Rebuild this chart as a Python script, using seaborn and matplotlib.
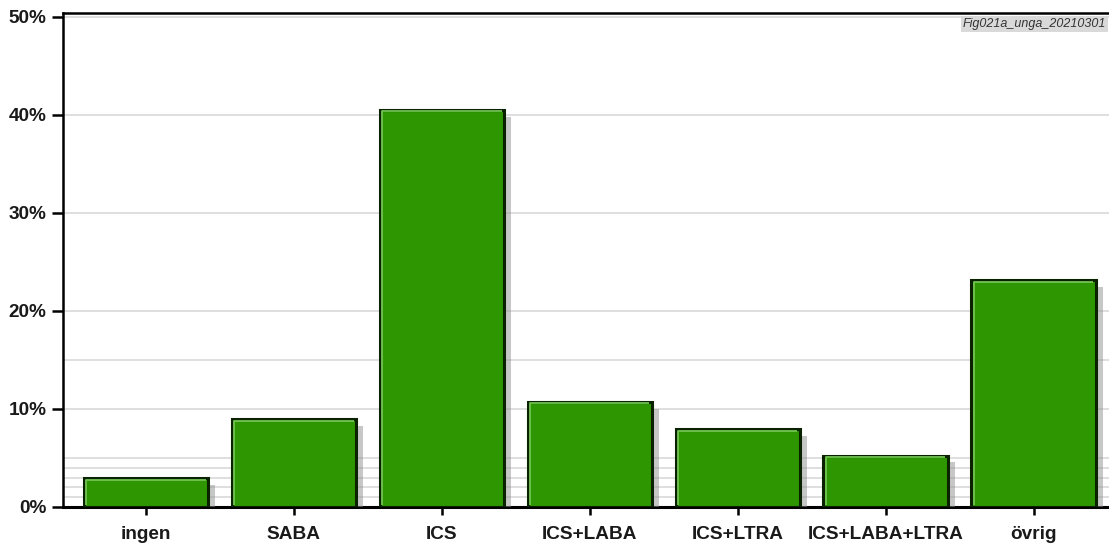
import numpy as np
import pandas as pd
import matplotlib
matplotlib.use("Agg")
import matplotlib.pyplot as plt
import matplotlib.patheffects as pe
import seaborn as sns

# data
categories = ["ingen", "SABA", "ICS", "ICS+LABA", "ICS+LTRA", "ICS+LABA+LTRA", "övrig"]
shares = [2.95, 8.95, 40.5, 10.75, 7.95, 5.25, 23.1]
y_ticks = [0, 10, 20, 30, 40, 50]
grid_lines = [1, 2, 3, 4, 5, 10, 15, 20, 30, 40, 50]
fig_tag = "Fig021a_unga_20210301"

df = pd.DataFrame({"kategori": categories, "andel": shares})

sns.set_style("white")
plt.rcParams["font.family"] = ["Liberation Sans", "DejaVu Sans"]

fig = plt.figure(figsize=(11.09, 5.53), dpi=100)
ax = fig.add_axes([0.0568, 0.0832, 0.9432, 0.8933])

for g in grid_lines:
    ax.axhline(g, color="#d9d9d9", lw=1.2, zorder=0)

sns.barplot(data=df, x="kategori", y="andel", color="#2e9600", saturation=1,
            width=0.84, edgecolor="#0a2200", linewidth=2.2, ax=ax, zorder=3)

for bar in ax.patches:
    bar.set_path_effects([pe.SimplePatchShadow(offset=(5, -5), shadow_rgbFace="#909090", alpha=0.5),
                          pe.Normal()])
    # light inner highlight
    x0, w, h = bar.get_x(), bar.get_width(), bar.get_height()
    ax.plot([x0 + 0.016, x0 + 0.016, x0 + w - 0.016], [0.2, h - 0.16, h - 0.16],
            color="#72c452", lw=1.3, zorder=4, solid_capstyle="butt")

ax.set_xlim(-0.56, 6.51)
ax.set_ylim(0, 50.37)
ax.set_yticks(y_ticks)
ax.set_yticklabels([f"{t}%" for t in y_ticks])
ax.set_xlabel("")
ax.set_ylabel("")

for s in ["left", "bottom", "top"]:
    ax.spines[s].set_visible(True)
    ax.spines[s].set_color("black")
ax.spines["left"].set_linewidth(1.8)
ax.spines["bottom"].set_linewidth(2.2)
ax.spines["top"].set_linewidth(1.8)
ax.spines["right"].set_visible(False)

ax.tick_params(axis="y", which="major", left=True, length=8, width=1.8, color="black",
               labelsize=13.7, pad=4)
ax.tick_params(axis="x", which="major", bottom=True, length=6, width=1.8, color="black",
               labelsize=13.7, pad=8)
for lbl in ax.get_xticklabels() + ax.get_yticklabels():
    lbl.set_fontweight("bold")
    lbl.set_color("#1a1a1a")

ax.text(0.997, 0.99, fig_tag, transform=ax.transAxes, ha="right", va="top",
        fontsize=9, style="italic", color="#333333",
        bbox=dict(boxstyle="square,pad=0.15", fc="#d9d9d9", ec="none"), zorder=6)

fig.savefig("out.png", dpi=100)
